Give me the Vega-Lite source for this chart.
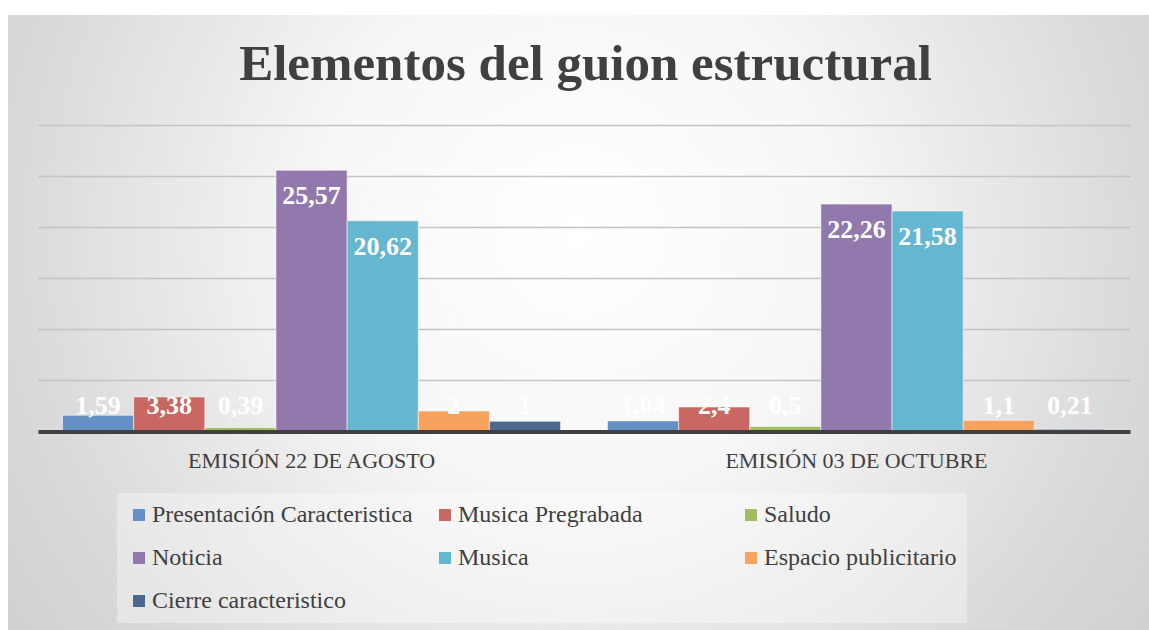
{
  "$schema": "https://vega.github.io/schema/vega-lite/v6.json",
  "width": 1141,
  "height": 615,
  "autosize": {"type": "none"},
  "padding": {"left": 8, "top": 15, "right": 0, "bottom": 0},
  "background": "#ffffff",
  "view": {
    "stroke": null,
    "fill": {
      "gradient": "radial",
      "x1": 0.5, "y1": 0.42, "r1": 0,
      "x2": 0.5, "y2": 0.42, "r2": 0.75,
      "stops": [
        {"offset": 0, "color": "#ffffff"},
        {"offset": 0.3, "color": "#f7f7f7"},
        {"offset": 0.65, "color": "#dadada"},
        {"offset": 1, "color": "#c6c6c6"}
      ]
    }
  },
  "title": {
    "text": "Elementos del guion estructural",
    "anchor": "middle",
    "frame": "group",
    "font": "Liberation Serif",
    "fontSize": 51,
    "fontWeight": "bold",
    "color": "#404040",
    "baseline": "alphabetic",
    "offset": -63,
    "dy": 53,
    "dx": 7
  },
  "config": {
    "locale": {"number": {"decimal": ",", "thousands": ".", "grouping": [3], "currency": ["", " €"]}},
    "legend": {
      "orient": "none",
      "legendX": 109,
      "legendY": 478,
      "direction": "horizontal",
      "columns": 3,
      "gridAlign": "all",
      "symbolType": "square",
      "symbolSize": 144,
      "symbolStrokeWidth": 0,
      "labelFont": "Liberation Serif",
      "labelFontSize": 24,
      "labelColor": "#404040",
      "labelOffset": 1,
      "labelLimit": 500,
      "rowPadding": 19,
      "columnPadding": 20,
      "padding": 10,
      "fillColor": "rgba(255,255,255,0.35)",
      "title": null
    }
  },
  "data": {
    "values": [
      {"emision": "EMISIÓN 22 DE AGOSTO", "elemento": "Presentación Caracteristica", "valor": 1.59},
      {"emision": "EMISIÓN 22 DE AGOSTO", "elemento": "Musica Pregrabada", "valor": 3.38},
      {"emision": "EMISIÓN 22 DE AGOSTO", "elemento": "Saludo", "valor": 0.39},
      {"emision": "EMISIÓN 22 DE AGOSTO", "elemento": "Noticia", "valor": 25.57},
      {"emision": "EMISIÓN 22 DE AGOSTO", "elemento": "Musica", "valor": 20.62},
      {"emision": "EMISIÓN 22 DE AGOSTO", "elemento": "Espacio publicitario", "valor": 2},
      {"emision": "EMISIÓN 22 DE AGOSTO", "elemento": "Cierre caracteristico", "valor": 1},
      {"emision": "EMISIÓN 03 DE OCTUBRE", "elemento": "Presentación Caracteristica", "valor": 1.04},
      {"emision": "EMISIÓN 03 DE OCTUBRE", "elemento": "Musica Pregrabada", "valor": 2.4},
      {"emision": "EMISIÓN 03 DE OCTUBRE", "elemento": "Saludo", "valor": 0.5},
      {"emision": "EMISIÓN 03 DE OCTUBRE", "elemento": "Noticia", "valor": 22.26},
      {"emision": "EMISIÓN 03 DE OCTUBRE", "elemento": "Musica", "valor": 21.58},
      {"emision": "EMISIÓN 03 DE OCTUBRE", "elemento": "Espacio publicitario", "valor": 1.1},
      {"emision": "EMISIÓN 03 DE OCTUBRE", "elemento": "Cierre caracteristico", "valor": 0.21}
    ]
  },
  "encoding": {
    "x": {
      "field": "emision",
      "type": "nominal",
      "sort": ["EMISIÓN 22 DE AGOSTO", "EMISIÓN 03 DE OCTUBRE"],
      "scale": {"range": [30, 1122], "paddingInner": 0.086, "paddingOuter": 0.045},
      "axis": {
        "title": null,
        "orient": "bottom",
        "offset": -198.5,
        "labelAngle": 0,
        "ticks": false,
        "domainColor": "#404040",
        "domainWidth": 4,
        "labelFont": "Liberation Serif",
        "labelFontSize": 22,
        "labelColor": "#404040",
        "labelPadding": 19,
        "labelLimit": 500,
        "zindex": 2
      }
    },
    "xOffset": {
      "field": "elemento",
      "type": "nominal",
      "sort": ["Presentación Caracteristica", "Musica Pregrabada", "Saludo", "Noticia", "Musica", "Espacio publicitario", "Cierre caracteristico"],
      "scale": {"paddingInner": 0, "paddingOuter": 0}
    }
  },
  "layer": [
    {
      "mark": {"type": "bar", "stroke": "#ffffff", "strokeOpacity": 0.55, "strokeWidth": 1},
      "encoding": {
        "y": {
          "field": "valor",
          "type": "quantitative",
          "stack": null,
          "scale": {"domain": [-19.43, 40.77], "nice": false, "zero": false},
          "axis": {"title": null, "values": [5, 10, 15, 20, 25, 30], "labels": false, "ticks": false, "domain": false, "grid": true, "gridColor": "#c4c4c4", "gridWidth": 1.5}
        },
        "color": {
          "field": "elemento",
          "type": "nominal",
          "scale": {
            "domain": ["Presentación Caracteristica", "Musica Pregrabada", "Saludo", "Noticia", "Musica", "Espacio publicitario", "Cierre caracteristico"],
            "range": ["#6490C5", "#C96763", "#9FBE62", "#9279AD", "#64B7CE", "#F7A35E", "#4A6890"]
          }
        }
      }
    },
    {
      "transform": [{"filter": "datum.valor >= 5"}],
      "mark": {"type": "text", "font": "Liberation Serif", "fontSize": 26, "fontWeight": "bold", "color": "#ffffff", "baseline": "alphabetic", "dy": 34},
      "encoding": {
        "y": {"field": "valor", "type": "quantitative", "title": null},
        "text": {"field": "valor", "type": "quantitative", "format": ".2~f"}
      }
    },
    {
      "transform": [{"filter": "datum.valor < 5"}],
      "mark": {"type": "text", "font": "Liberation Serif", "fontSize": 26, "fontWeight": "bold", "color": "#ffffff", "baseline": "alphabetic", "dy": -18},
      "encoding": {
        "y": {"datum": 0, "type": "quantitative", "title": null},
        "text": {"field": "valor", "type": "quantitative", "format": ".2~f"}
      }
    }
  ]
}
